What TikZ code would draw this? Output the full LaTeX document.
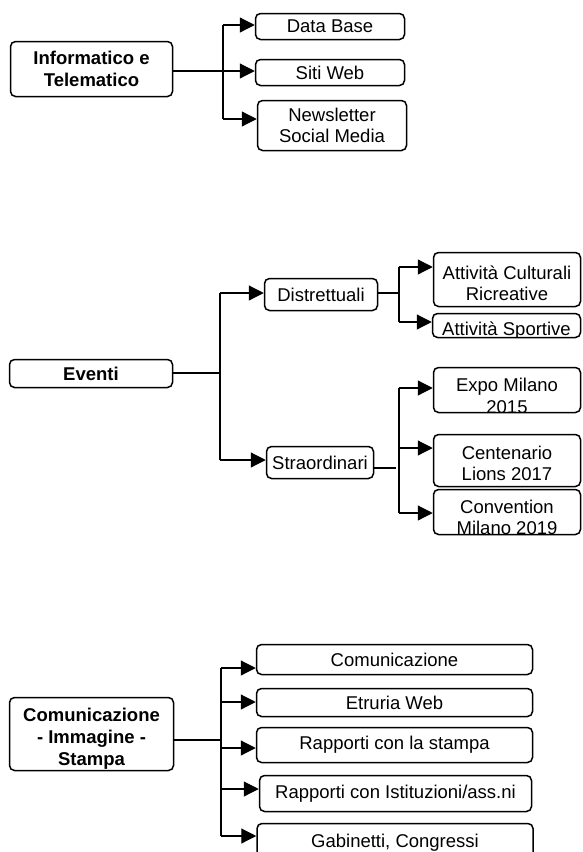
\documentclass[tikz,border=0pt]{standalone}
\usepackage{fontspec}
\setmainfont{Liberation Sans}
\usetikzlibrary{arrows.meta}
\newcommand\plainfnt{\fontsize{18.5}{21.5}\selectfont}
\newcommand\boldfnt{\bfseries\fontsize{18.5}{22}\selectfont}

\begin{document}
\begin{tikzpicture}[x=1pt,y=-1pt,
             leaf/.style={draw, line width=1.5pt, rounded corners=5pt, inner sep=0pt, align=center, font=\plainfnt},
             root/.style={leaf, font=\boldfnt},
             wire/.style={line width=1.2pt},
             feed/.style={wire, -{Triangle[length=15pt,width=15pt]}},
             cuttext/.style n args={3}{path picture={\node[draw=none, inner sep=0pt, align=center, font=#1]
               at ([yshift=#2]path picture bounding box.center) {#3};}}]
             \useasboundingbox (0,0) rectangle (582,852);

             % Informatico e Telematico
             \node[root, minimum width=162pt, minimum height=55pt] (inf) at (91.5,69) {Informatico e\\Telematico};
             \node[leaf, minimum width=149pt, minimum height=26pt] (db) at (330,26.5) {Data Base};
             \node[leaf, minimum width=149pt, minimum height=26pt] (sw) at (330,72.5) {Siti Web};
             \node[leaf, minimum width=149pt, minimum height=50pt] (nl) at (332,125.5) {Newsletter\\Social Media};
             \coordinate (i0) at (223,71);
             \coordinate (i1) at (223,25);
             \coordinate (i2) at (223,71);
             \coordinate (i3) at (223,119);
             \draw[wire] (inf.east |- i0) -- (i0);
             \draw[wire] (i1) -- (i3);
             \draw[feed] (i1) -- (i1 -| db.west);
             \draw[feed] (i2) -- (i2 -| sw.west);
             \draw[feed] (i3) -- (i3 -| nl.west);

             % Eventi
             \node[root, minimum width=163pt, minimum height=28pt] (ev) at (91,373.5) {Eventi};
             \node[leaf, minimum width=113pt, minimum height=32pt] (dis) at (321,294.5) {Distrettuali};
             \node[leaf, minimum width=107pt, minimum height=32pt] (str) at (320,462.5) {Straordinari};
             \node[leaf, minimum width=147pt, minimum height=54pt, cuttext={\plainfnt}{-4pt}{Attività Culturali\\Ricreative}] (acr) at (507,279.5) {};
             \node[leaf, minimum width=148pt, minimum height=24pt, cuttext={\plainfnt}{-5pt}{Attività Sportive}] (asp) at (506.5,325.5) {};
             \node[leaf, minimum width=147pt, minimum height=45pt, cuttext={\plainfnt}{-6pt}{Expo Milano\\2015}] (expo) at (507,390) {};
             \node[leaf, minimum width=147pt, minimum height=52pt, cuttext={\plainfnt}{-3pt}{Centenario\\Lions 2017}] (cen) at (507,460.5) {};
             \node[leaf, minimum width=147pt, minimum height=45pt, cuttext={\plainfnt}{-5.5pt}{Convention\\Milano 2019}] (conv) at (507,512) {};
             \coordinate (e0) at (220,373);
             \coordinate (e1) at (220,293);
             \coordinate (e2) at (220,460);
             \draw[wire] (ev.east |- e0) -- (e0);
             \draw[wire] (e1) -- (e2);
             \draw[feed] (e1) -- (e1 -| dis.west);
             \draw[feed] (e2) -- (e2 -| str.west);
             \coordinate (d0) at (399,293);
             \coordinate (d1) at (399,267);
             \coordinate (d2) at (399,322);
             \draw[wire] (dis.east |- d0) -- (d0);
             \draw[wire] (d1) -- (d2);
             \draw[feed] (d1) -- (d1 -| acr.west);
             \draw[feed] (d2) -- (d2 -| asp.west);
             \coordinate (s0) at (396,468);
             \coordinate (s1) at (399,388);
             \coordinate (s2) at (399,448);
             \coordinate (s3) at (399,513);
             \draw[wire] (str.east |- s0) -- (s0);
             \draw[wire] (s1) -- (s3);
             \draw[feed] (s1) -- (s1 -| expo.west);
             \draw[feed] (s2) -- (s2 -| cen.west);
             \draw[feed] (s3) -- (s3 -| conv.west);

             % Comunicazione - Immagine - Stampa
             \node[root, minimum width=164pt, minimum height=73pt, cuttext={\boldfnt}{-5pt}{Comunicazione\\- Immagine -\\Stampa}] (com) at (91.5,734) {};
             \node[leaf, minimum width=276pt, minimum height=30pt] (c1) at (394.5,659.5) {Comunicazione};
             \node[leaf, minimum width=276pt, minimum height=28pt] (c2) at (394.5,702.5) {Etruria Web};
             \node[leaf, minimum width=276pt, minimum height=35pt] (c3) at (394.5,745) {Rapporti con la stampa};
             \node[leaf, minimum width=272pt, minimum height=36pt] (c4) at (395.5,793.5) {Rapporti con Istituzioni/ass.ni};
             \node[leaf, minimum width=276pt, minimum height=38pt] (c5) at (395,842.5) {Gabinetti, Congressi};
             \coordinate (k0) at (221,740);
             \coordinate (k1) at (221,668);
             \coordinate (k2) at (221,702);
             \coordinate (k3) at (221,748);
             \coordinate (k4) at (221,789);
             \coordinate (k5) at (221,836);
             \draw[wire] (com.east |- k0) -- (k0);
             \draw[wire] (k1) -- (k5);
             \draw[feed] (k1) -- (k1 -| c1.west);
             \draw[feed] (k2) -- (k2 -| c2.west);
             \draw[feed] (k3) -- (k3 -| c3.west);
             \draw[feed] (k4) -- (k4 -| c4.west);
             \draw[feed] (k5) -- (k5 -| c5.west);
            \end{tikzpicture}
\end{document}
